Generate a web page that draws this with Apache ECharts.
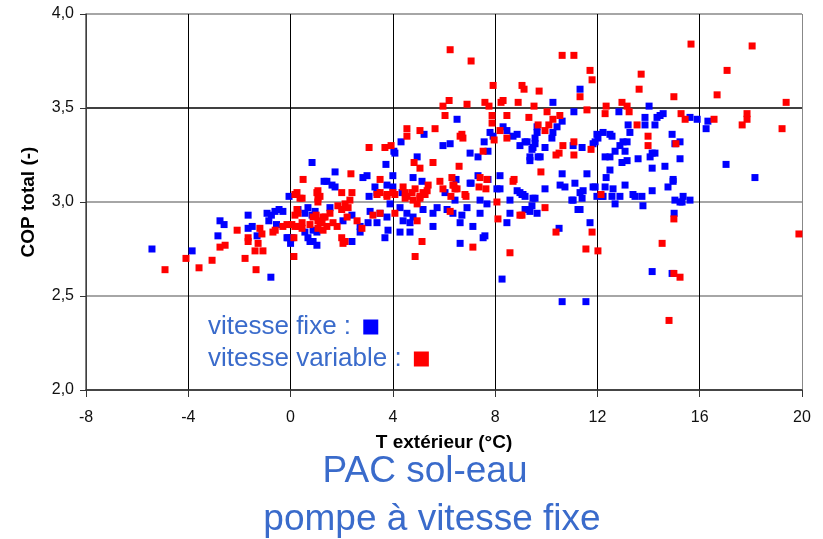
<!DOCTYPE html>
<html>
<head>
<meta charset="utf-8">
<title>COP total</title>
<script src="https://cdn.jsdelivr.net/npm/echarts@6/dist/echarts.min.js"></script>
<style>
  html, body { margin: 0; padding: 0; background: #fff; }
  #chart { width: 823px; height: 539px; }
</style>
</head>
<body>
<div id="chart"></div>
<script>
// axis ticks
const xTicks = [-8, -4, 0, 4, 8, 12, 16, 20];
const yTicks = [2.0, 2.5, 3.0, 3.5, 4.0];

// [T extérieur, COP total]
const vitesseFixe = [
  [-5.42, 2.75], [-3.85, 2.74], [-2.84, 2.82], [-2.76, 2.90], [-2.60, 2.88], [-1.66, 2.93], [-1.66, 2.86],
  [-1.50, 2.87], [-1.31, 2.82], [-0.77, 2.60], [-0.92, 2.94], [-0.61, 2.95], [-0.30, 2.95], [-0.75, 2.93],
  [-0.45, 2.96], [-0.85, 2.90], [-0.55, 2.88], [-0.10, 2.81], [0.00, 2.78], [0.84, 2.93], [0.88, 2.85],
  [0.76, 2.79], [1.03, 2.77], [0.56, 2.84], [-0.06, 3.03], [0.84, 3.21], [1.31, 3.11], [0.29, 2.96],
  [0.68, 2.97], [0.56, 2.94], [0.96, 2.95], [1.54, 2.97], [2.05, 2.90], [2.40, 2.93], [3.11, 2.95],
  [3.50, 2.94], [3.77, 2.92], [3.03, 2.89], [2.72, 2.87], [3.38, 2.89], [1.03, 2.84], [0.68, 2.81],
  [0.06, 2.81], [-0.14, 2.81], [0.88, 2.79], [2.40, 2.79], [2.72, 2.84], [3.81, 2.85], [3.69, 2.81],
  [3.89, 2.99], [4.28, 2.97], [4.55, 2.94], [4.40, 2.90], [4.67, 2.89], [4.79, 2.92], [5.18, 2.96],
  [5.57, 2.94], [5.73, 2.97], [6.12, 2.96], [6.35, 2.94], [6.70, 2.93], [4.28, 2.84], [4.67, 2.84],
  [5.57, 2.87], [6.63, 2.89], [7.13, 2.87], [7.41, 2.94], [7.60, 2.82], [6.63, 2.78], [6.43, 3.01],
  [6.04, 3.05], [6.90, 2.97], [7.41, 3.01], [7.68, 2.99], [7.02, 3.10], [8.07, 3.07], [8.58, 3.01],
  [8.97, 3.05], [9.25, 2.96], [9.48, 3.02], [9.64, 2.94], [8.58, 2.94], [8.46, 2.89], [8.27, 2.59],
  [7.53, 2.81], [6.51, 3.44], [7.80, 3.37], [8.31, 3.40], [8.46, 3.38], [8.86, 3.36], [8.70, 3.35],
  [9.64, 3.37], [9.56, 3.34], [8.97, 3.30], [9.25, 3.32], [9.48, 3.29], [9.36, 3.24], [9.36, 3.22],
  [9.68, 3.24], [5.96, 3.30], [6.24, 3.31], [7.02, 3.26], [7.33, 3.24], [7.72, 3.27], [7.57, 3.32],
  [7.92, 3.35], [4.32, 3.32], [5.22, 3.36], [4.04, 3.27], [4.08, 3.26], [4.95, 3.24], [3.73, 3.20],
  [1.74, 3.16], [1.42, 3.11], [1.62, 3.09], [1.74, 3.08], [2.83, 3.13], [2.99, 3.14], [4.00, 3.14],
  [4.79, 3.13], [5.14, 3.11], [6.47, 3.12], [7.06, 3.10], [7.33, 3.14], [7.72, 3.12], [8.19, 3.14],
  [8.19, 3.07], [8.86, 3.06], [9.05, 3.04], [9.17, 3.03], [3.07, 3.03], [3.30, 3.08], [3.77, 3.09],
  [4.00, 3.08], [3.38, 3.05], [4.36, 3.05], [11.32, 3.60], [10.26, 3.53], [11.08, 3.48], [12.84, 3.48],
  [14.02, 3.51], [15.62, 3.45], [15.90, 3.44], [16.32, 3.43], [16.25, 3.39], [9.64, 3.40], [10.42, 3.40],
  [10.26, 3.37], [10.62, 3.43], [9.17, 3.32], [9.56, 3.31], [9.44, 3.28], [9.95, 3.29], [10.22, 3.34],
  [9.76, 3.24], [11.05, 3.30], [11.40, 3.29], [11.83, 3.31], [11.98, 3.36], [11.91, 3.32], [12.02, 3.34],
  [12.22, 3.37], [12.49, 3.36], [12.57, 3.35], [12.88, 3.30], [12.69, 3.27], [12.49, 3.24], [12.30, 3.24],
  [13.08, 3.27], [13.20, 3.41], [13.27, 3.37], [13.00, 3.32], [13.16, 3.32], [13.86, 3.41], [13.86, 3.45],
  [14.25, 3.41], [14.33, 3.45], [14.57, 3.47], [14.45, 3.46], [14.14, 3.26], [14.25, 3.26], [14.06, 3.24],
  [13.59, 3.23], [14.92, 3.36], [15.23, 3.32], [15.03, 3.31], [15.23, 3.23], [17.03, 3.20], [18.16, 3.13],
  [14.64, 3.19], [14.96, 3.12], [14.76, 3.08], [14.14, 3.18], [14.14, 3.06], [13.16, 3.22], [12.96, 3.21],
  [12.49, 3.17], [12.34, 3.13], [12.61, 3.07], [13.08, 3.09], [13.47, 3.03], [13.74, 3.03], [13.78, 2.98],
  [12.88, 3.03], [12.57, 3.03], [11.59, 3.15], [11.12, 3.10], [10.62, 3.15], [10.54, 3.09], [10.73, 3.08],
  [9.95, 3.07], [9.56, 3.02], [9.17, 2.96], [11.05, 3.01], [11.40, 3.02], [11.91, 3.08], [11.98, 3.03],
  [12.22, 3.03], [11.32, 2.96], [15.03, 3.01], [15.35, 3.03], [15.23, 3.00], [15.62, 3.01], [15.00, 2.94],
  [9.44, 2.98], [11.32, 3.05], [11.44, 3.06], [11.00, 3.01], [11.83, 3.08], [12.30, 3.08], [12.18, 3.03],
  [12.69, 2.99], [13.39, 3.04], [14.96, 3.11], [15.31, 3.00], [9.09, 3.04], [9.36, 2.95], [11.24, 2.96],
  [11.71, 2.89], [10.50, 2.86], [14.14, 2.63], [14.92, 2.62], [10.62, 2.47], [11.55, 2.47]
];

const vitesseVariable = [
  [-4.91, 2.64], [-4.09, 2.70], [-3.58, 2.65], [-3.07, 2.69], [-2.76, 2.76], [-2.56, 2.77], [-2.09, 2.85],
  [-1.66, 2.81], [-1.66, 2.79], [-1.78, 2.70], [-1.35, 2.64], [-1.27, 2.78], [-1.39, 2.74], [-1.08, 2.74],
  [-1.20, 2.86], [-1.12, 2.83], [-0.69, 2.84], [-0.60, 2.85], [-0.30, 2.87], [0.05, 2.88], [-0.14, 2.88],
  [0.13, 2.81], [0.13, 2.71], [0.29, 2.94], [0.29, 2.87], [0.45, 2.86], [1.00, 2.93], [1.07, 2.90],
  [1.23, 2.89], [1.07, 2.86], [1.35, 2.92], [1.27, 2.85], [0.49, 3.12], [0.25, 3.05], [0.45, 3.02],
  [1.07, 3.06], [1.07, 3.02], [1.07, 3.00], [0.17, 3.04], [0.37, 3.02], [0.25, 2.96], [0.17, 2.93],
  [1.15, 3.03], [1.03, 3.05], [2.00, 3.05], [2.40, 3.05], [2.32, 3.01], [2.13, 2.99], [1.85, 2.98],
  [2.25, 2.97], [2.00, 2.96], [0.88, 2.92], [1.27, 2.92], [1.54, 2.94], [1.66, 2.89], [1.15, 2.89],
  [0.76, 2.88], [1.82, 2.87], [2.21, 2.92], [1.42, 2.87], [0.45, 2.89], [0.17, 2.87], [2.60, 2.90],
  [2.79, 2.86], [2.00, 2.81], [2.13, 2.79], [2.05, 2.78], [3.22, 2.93], [3.50, 2.94], [4.08, 2.94],
  [3.50, 3.05], [4.00, 3.05], [3.77, 3.04], [4.40, 3.08], [4.55, 3.03], [4.87, 3.07], [4.95, 2.99],
  [5.06, 3.03], [5.18, 3.05], [5.34, 3.06], [4.79, 3.01], [4.48, 3.05], [4.95, 2.90], [5.14, 2.79],
  [4.87, 2.71], [6.24, 2.95], [7.13, 2.76], [6.82, 3.04], [6.35, 3.09], [5.84, 3.11], [5.96, 3.07],
  [6.43, 3.07], [8.07, 3.00], [8.11, 2.91], [8.97, 2.93], [8.58, 2.73], [8.70, 3.11], [6.24, 3.81],
  [7.06, 3.75], [7.92, 3.62], [9.05, 3.62], [9.13, 3.60], [9.72, 3.59], [6.20, 3.54], [5.96, 3.51],
  [6.04, 3.46], [6.90, 3.52], [7.60, 3.53], [7.76, 3.51], [8.23, 3.53], [8.31, 3.54], [8.90, 3.53],
  [9.52, 3.51], [7.88, 3.46], [7.88, 3.42], [8.46, 3.46], [9.32, 3.45], [9.68, 3.41], [8.19, 3.38],
  [8.46, 3.34], [7.96, 3.33], [6.63, 3.35], [6.74, 3.34], [6.70, 3.36], [7.53, 3.27], [4.55, 3.39],
  [4.55, 3.35], [5.06, 3.38], [5.65, 3.39], [3.69, 3.29], [3.93, 3.30], [3.07, 3.29], [4.83, 3.21],
  [5.06, 3.18], [5.57, 3.21], [6.59, 3.19], [2.36, 3.15], [3.50, 3.12], [6.31, 3.13], [6.51, 3.07],
  [6.39, 3.09], [7.41, 3.13], [7.68, 3.12], [7.37, 3.08], [7.64, 3.07], [8.74, 3.12], [6.86, 3.03],
  [6.27, 3.03], [3.38, 3.04], [3.77, 3.03], [4.08, 3.04], [4.75, 3.05], [5.26, 3.04], [5.38, 3.09],
  [4.48, 3.02], [5.06, 3.02], [15.66, 3.84], [18.05, 3.83], [10.62, 3.78], [11.08, 3.78], [11.71, 3.70],
  [11.79, 3.65], [17.07, 3.70], [13.71, 3.68], [13.63, 3.60], [11.32, 3.56], [14.99, 3.56], [16.68, 3.57],
  [19.38, 3.53], [10.03, 3.48], [11.59, 3.49], [12.34, 3.51], [12.30, 3.47], [12.96, 3.53], [13.16, 3.51],
  [13.24, 3.48], [15.27, 3.47], [15.43, 3.44], [16.56, 3.44], [17.85, 3.47], [17.85, 3.44], [17.66, 3.41],
  [19.22, 3.39], [10.10, 3.41], [10.26, 3.44], [10.53, 3.46], [9.95, 3.38], [10.65, 3.30], [11.08, 3.32],
  [10.38, 3.25], [10.50, 3.26], [11.08, 3.25], [11.75, 3.28], [13.55, 3.41], [13.98, 3.35], [13.98, 3.30],
  [15.07, 3.31], [9.79, 3.16], [12.14, 3.04], [9.95, 2.97], [9.05, 2.93], [10.38, 2.84], [11.79, 2.84],
  [11.55, 2.75], [12.02, 2.74], [14.99, 2.91], [14.53, 2.78], [19.88, 2.83], [14.99, 2.62], [15.23, 2.60],
  [14.80, 2.37]
];

const FONT = '"Liberation Sans", Arial, sans-serif';
const BLUE_TEXT = '#3A6BCB';

const chart = echarts.init(document.getElementById('chart'), null, { renderer: 'canvas' });

// one legend per series so both texts start at the same x, square after the text
const legendBase = {
  orient: 'horizontal',
  left: 203,
  align: 'right',
  icon: 'rect',
  itemWidth: 15,
  itemHeight: 15,
  selectedMode: false,
  formatter: (name) => name + ' : ',
  textStyle: { fontFamily: FONT, fontSize: 26, color: BLUE_TEXT }
};

const option = {
  animation: false,
  backgroundColor: '#fff',
  grid: { left: 86, right: 21, top: 14, bottom: 149, containLabel: false },
  legend: [
    Object.assign({}, legendBase, { data: ['vitesse fixe'], top: 309 }),
    Object.assign({}, legendBase, { data: ['vitesse variable'], top: 341 })
  ],
  xAxis: {
    type: 'value',
    min: xTicks[0],
    max: xTicks[xTicks.length - 1],
    interval: 4,
    name: 'T extérieur (°C)',
    nameLocation: 'middle',
    nameGap: 43,
    nameTextStyle: { fontFamily: FONT, fontSize: 19, fontWeight: 'bold', color: '#000' },
    axisLine: { onZero: false, lineStyle: { color: '#333', width: 1.5 } },
    axisTick: { show: true, length: 7, lineStyle: { color: '#333' } },
    axisLabel: { fontFamily: FONT, fontSize: 16, color: '#111', margin: 20 },
    splitLine: {
      show: true,
      showMinLine: true,
      showMaxLine: true,
      lineStyle: { color: ['#000', '#000', '#000', '#000', '#000', '#000', '#000', '#888'], width: 1 }
    }
  },
  yAxis: {
    type: 'value',
    min: yTicks[0],
    max: yTicks[yTicks.length - 1],
    interval: 0.5,
    name: 'COP total (-)',
    nameLocation: 'middle',
    nameRotate: 90,
    nameGap: 48,
    nameTextStyle: { fontFamily: FONT, fontSize: 19, fontWeight: 'bold', color: '#000' },
    axisLine: { onZero: false, lineStyle: { color: '#555', width: 1.5 } },
    axisTick: { show: true, length: 6, lineStyle: { color: '#333' } },
    axisLabel: {
      fontFamily: FONT, fontSize: 16, color: '#111', margin: 12,
      formatter: (v) => v.toFixed(1).replace('.', ',')
    },
    splitLine: {
      show: true,
      showMinLine: true,
      showMaxLine: true,
      lineStyle: { color: ['#555', '#888', '#888', '#000', '#888'], width: 1.5 }
    }
  },
  series: [
    {
      name: 'vitesse fixe',
      type: 'scatter',
      symbol: 'rect',
      symbolSize: 7,
      itemStyle: { color: '#0000FF', opacity: 1 },
      data: vitesseFixe,
      z: 2
    },
    {
      name: 'vitesse variable',
      type: 'scatter',
      symbol: 'rect',
      symbolSize: 7,
      itemStyle: { color: '#FF0000', opacity: 1 },
      data: vitesseVariable,
      z: 3
    }
  ],
  graphic: [
    {
      type: 'text',
      x: 425, y: 472,
      style: { text: 'PAC sol-eau', fontFamily: FONT, fontSize: 37, fill: BLUE_TEXT, align: 'center', verticalAlign: 'middle' }
    },
    {
      type: 'text',
      x: 432, y: 520,
      style: { text: 'pompe à vitesse fixe', fontFamily: FONT, fontSize: 37, fill: BLUE_TEXT, align: 'center', verticalAlign: 'middle' }
    }
  ]
};

chart.setOption(option);
</script>
</body>
</html>
